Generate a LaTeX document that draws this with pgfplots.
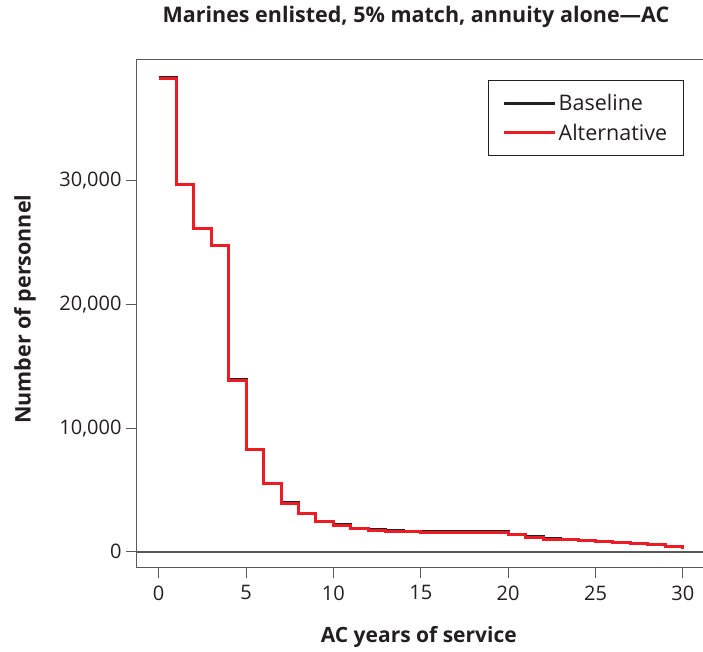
\documentclass[border=0pt]{standalone}
\usepackage{fontspec}
\setmainfont{Open Sans}
\usepackage{pgfplots}
\usepackage{pgfplotstable}
\pgfplotsset{compat=1.18}
\definecolor{altred}{RGB}{237,28,36}
\definecolor{basek}{RGB}{35,31,32}
\definecolor{axgray}{RGB}{90,90,90}
\pgfplotstableread{
x y
0 38380
1 29700
2 26170
3 24800
4 13895
5 8285
6 5535
7 3945
8 3105
9 2435
10 2165
11 1895
12 1760
13 1680
14 1625
15 1595
16 1595
17 1595
18 1595
19 1595
20 1383
21 1193
22 1030
23 950
24 895
25 815
26 735
27 653
28 572
29 437
30 248
}\baseline
\pgfplotstableread{
x y
0 38280
1 29690
2 26160
3 24790
4 13890
5 8280
6 5530
7 3940
8 3100
9 2430
10 2160
11 1890
12 1755
13 1675
14 1620
15 1590
16 1590
17 1590
18 1590
19 1590
20 1378
21 1189
22 1027
23 947
24 892
25 811
26 731
27 650
28 569
29 434
30 245
}\alternative
\begin{document}
\begin{tikzpicture}
\begin{axis}[
  scale only axis, width=567pt, height=507.5pt,
  xmin=-1.242, xmax=31.21, ymin=-1238, ymax=39822,
  axis line style={axgray, line width=1pt},
  xtick={0,5,...,30}, ytick={0,10000,20000,30000},
  tick align=outside, major tick length=11pt,
  tick style={axgray, line width=1pt},
  xtick pos=bottom, ytick pos=left,
  scaled y ticks=false,
  /pgf/number format/assume math mode=true,
  /pgf/number format/1000 sep={,},
  ticklabel style={font=\fontsize{20}{24}\selectfont, text=basek},
  xticklabel style={yshift=-4pt},
  yticklabel style={xshift=-1pt},
  title={Marines enlisted, 5\% match, annuity alone---AC},
  title style={at={(0.492,1.0601)}, anchor=base, font=\bfseries\fontsize{21.5}{25}\selectfont, text=basek},
  xlabel={AC years of service},
  xlabel style={at={(0.497,-0.1494)}, anchor=base, font=\bfseries\fontsize{21}{25}\selectfont, text=basek},
  ylabel={Number of personnel},
  ylabel style={at={(-0.1875,0.508)}, anchor=base, font=\bfseries\fontsize{21.5}{25}\selectfont, text=basek},
  legend style={at={(0.965,0.96)}, anchor=north east, draw=basek, line width=1pt,
    font=\fontsize{21.5}{25}\selectfont, text=basek, inner xsep=14.5pt, inner ysep=12pt, row sep=7.8pt},
  legend cell align=left,
  legend image code/.code={\draw[#1] (0pt,0pt) -- (46.7pt,0pt); \path (0pt,0pt) -- (51pt,0pt);},
]
\coordinate (sw) at (rel axis cs:0,0);
\coordinate (ne) at (rel axis cs:1,1);
\addplot[axgray, line width=1.6pt, forget plot] coordinates {(-1.242,0) (31.21,0)};
\addplot[const plot, basek, line width=3pt] table[x=x,y=y] {\baseline};
\addlegendentry{Baseline}
\addplot[const plot, altred, line width=3pt] table[x=x,y=y] {\alternative};
\addlegendentry{Alternative}
\end{axis}
\pgfresetboundingbox
\useasboundingbox ([xshift=-137pt,yshift=-84pt]sw) rectangle ([xshift=-1pt,yshift=59.5pt]ne);
\end{tikzpicture}
\end{document}
